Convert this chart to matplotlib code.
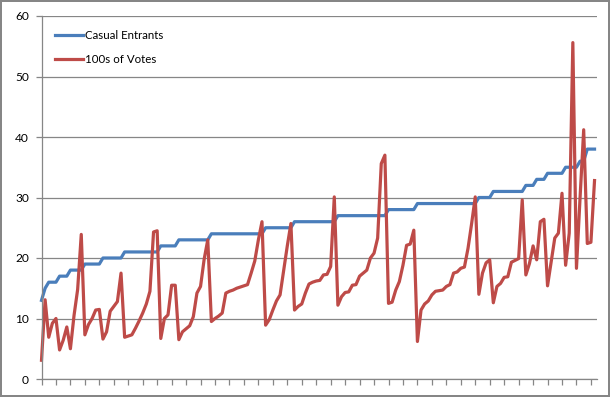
import matplotlib
matplotlib.use("Agg")
import matplotlib.pyplot as plt

# step line: casual entrants for each entry
casual_entrants = ([13] + [15] + [16]*3 + [17]*3 + [18]*4 + [19]*5 + [20]*6 + [21]*10 + [22]*5
                   + [23]*9 + [24]*15 + [25]*8 + [26]*12 + [27]*14 + [28]*8 + [29]*17 + [30]*4
                   + [31]*9 + [32]*3 + [33]*3 + [34]*5 + [35]*4 + [36]*2 + [38]*3)

# votes in hundreds
votes_100s = [3.1, 13.1, 6.9, 9.2, 10.0, 4.8, 6.4, 8.6, 5.0, 10.5,
              14.8, 23.9, 7.3, 9.0, 10.0, 11.4, 11.5, 6.6, 7.8, 11.2,
              12.0, 12.8, 17.5, 6.9, 7.1, 7.3, 8.4, 9.6, 10.9, 12.4,
              14.5, 24.3, 24.5, 6.7, 10.0, 10.6, 15.5, 15.5, 6.5, 7.8,
              8.3, 8.8, 10.3, 14.2, 15.3, 19.8, 23.0, 9.5, 10.0, 10.4,
              10.9, 14.2, 14.5, 14.7, 15.0, 15.2, 15.4, 15.6, 17.5, 19.5,
              23.0, 26.0, 8.9, 9.8, 11.4, 12.9, 13.9, 18.0, 22.0, 25.7,
              11.4, 12.0, 12.4, 14.2, 15.7, 16.0, 16.2, 16.3, 17.2, 17.3,
              18.6, 30.1, 12.2, 13.6, 14.3, 14.4, 15.5, 15.6, 17.0, 17.5,
              18.0, 20.0, 20.8, 23.3, 35.6, 37.0, 12.5, 12.7, 14.7, 16.1,
              18.8, 22.1, 22.3, 24.6, 6.2, 11.4, 12.4, 12.9, 13.9, 14.5,
              14.6, 14.7, 15.3, 15.6, 17.5, 17.7, 18.3, 18.5, 21.6, 25.7,
              30.1, 14.0, 17.5, 19.2, 19.7, 12.6, 15.3, 15.8, 16.8, 16.9,
              19.3, 19.6, 19.9, 29.6, 17.2, 19.1, 22.0, 19.7, 26.0, 26.4,
              15.4, 19.3, 23.3, 24.1, 30.7, 18.8, 24.1, 55.6, 18.3, 30.0,
              41.2, 22.4, 22.6, 32.8]

y_ticks = [0, 10, 20, 30, 40, 50, 60]

plt.rcParams['font.family'] = ['Lato', 'DejaVu Sans']
grey = '#868686'

fig = plt.figure(figsize=(6.1, 3.97), dpi=100)
fig.patch.set_edgecolor(grey)
fig.patch.set_linewidth(1.5)
ax = fig.add_axes([41.5/610, 18/397, (596.7-41.5)/610, 363/397])

x = list(range(len(votes_100s)))
ax.plot(x, casual_entrants, color='#4A7EBB', lw=2.3, label='Casual Entrants',
        solid_joinstyle='round', clip_on=False)
ax.plot(x, votes_100s, color='#BE4B48', lw=2.3, label='100s of Votes',
        solid_joinstyle='round', clip_on=False)

ax.set_xlim(0, 153.6)
ax.set_ylim(0, 60)
ax.set_yticks(y_ticks)
ax.set_xticks(range(0, len(x), 4))
ax.set_xticklabels([])
ax.yaxis.grid(True, color=grey, lw=0.9)
ax.set_axisbelow(True)
for s in ['top', 'right']:
    ax.spines[s].set_visible(False)
for s in ['left', 'bottom']:
    ax.spines[s].set_color(grey)
    ax.spines[s].set_linewidth(0.9)
ax.tick_params(axis='both', direction='out', length=4.5, color=grey, width=0.9, labelsize=8.6, pad=4.5)

ax.legend(loc='upper left', bbox_to_anchor=(55/610, 1-30/397), bbox_transform=fig.transFigure,
          frameon=False, fontsize=8.3, handlelength=2.4, handletextpad=0.2, labelspacing=1.1,
          borderpad=0, borderaxespad=0)

fig.savefig('out.png', dpi=100, edgecolor=fig.get_edgecolor())
